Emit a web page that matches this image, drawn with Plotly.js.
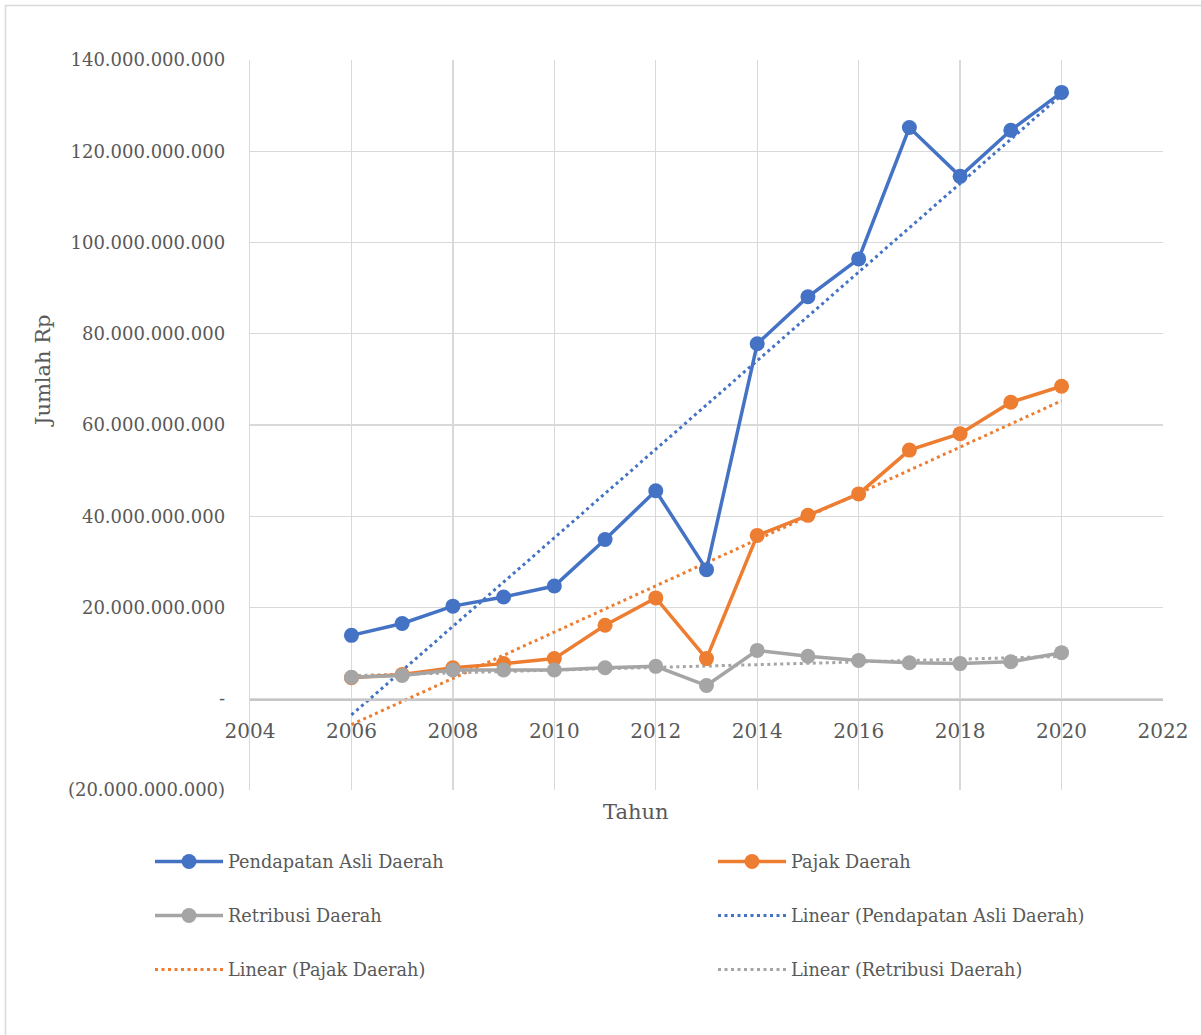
<!DOCTYPE html>
<html>
<head>
<meta charset="utf-8">
<script src="https://cdn.plot.ly/plotly-3.0.1.min.js"></script>
<style>
  html, body { margin: 0; padding: 0; background: #ffffff; }
  #chart { width: 1201px; height: 1035px; }
</style>
</head>
<body>
<div id="chart"></div>
<script>
// ---- Data ----
const years = [2006, 2007, 2008, 2009, 2010, 2011, 2012, 2013, 2014, 2015, 2016, 2017, 2018, 2019, 2020];
const pendapatanAsliDaerah = [13.9e9, 16.5e9, 20.3e9, 22.3e9, 24.7e9, 34.9e9, 45.6e9, 28.3e9, 77.8e9, 88.1e9, 96.4e9, 125.2e9, 114.5e9, 124.6e9, 132.9e9];
const pajakDaerah = [4.6e9, 5.3e9, 6.8e9, 7.7e9, 8.8e9, 16.1e9, 22.1e9, 8.8e9, 35.8e9, 40.2e9, 44.9e9, 54.5e9, 58.1e9, 65.0e9, 68.5e9];
const retribusiDaerah = [4.7e9, 5.1e9, 6.3e9, 6.3e9, 6.3e9, 6.8e9, 7.1e9, 2.9e9, 10.6e9, 9.3e9, 8.4e9, 7.9e9, 7.7e9, 8.1e9, 10.1e9];

const seriesNames = ['Pendapatan Asli Daerah', 'Pajak Daerah', 'Retribusi Daerah'];
const xTickVals = [2004, 2006, 2008, 2010, 2012, 2014, 2016, 2018, 2020, 2022];
const yTickVals = [-20e9, 0, 20e9, 40e9, 60e9, 80e9, 100e9, 120e9, 140e9];
const yTickText = ['(20.000.000.000)', '-', '20.000.000.000', '40.000.000.000', '60.000.000.000',
                   '80.000.000.000', '100.000.000.000', '120.000.000.000', '140.000.000.000'];
const xTitle = 'Tahun';
const yTitle = 'Jumlah Rp';

// ---- Styles ----
const colors = ['#4472C4', '#ED7D31', '#A5A5A5'];
const FONT = '"DejaVu Serif", "Liberation Serif", serif';
const TXT = '#595959';
const GRID = '#D9D9D9';

// least-squares linear trend (as Excel's "Linear" trendline)
function linearFit(xs, ys) {
  const n = xs.length;
  const mx = xs.reduce((a, b) => a + b, 0) / n;
  const my = ys.reduce((a, b) => a + b, 0) / n;
  let sxy = 0, sxx = 0;
  for (let i = 0; i < n; i++) { sxy += (xs[i] - mx) * (ys[i] - my); sxx += (xs[i] - mx) ** 2; }
  const b = sxy / sxx, a = my - b * mx;
  return xs.map(x => a + b * x);
}

const allSeries = [pendapatanAsliDaerah, pajakDaerah, retribusiDaerah];
// legend slots: 1 Pendapatan, 2 Pajak, 3 Retribusi, 4 Lin Pend, 5 Lin Pajak, 6 Lin Retribusi
const legendIds = ['legend', 'legend2', 'legend3', 'legend4', 'legend5', 'legend6'];

const traces = [];
// trendlines (drawn beneath the series)
allSeries.forEach((ys, i) => {
  traces.push({
    x: years, y: linearFit(years, ys), type: 'scatter', mode: 'lines',
    name: 'Linear (' + seriesNames[i] + ')',
    line: { color: colors[i], width: 3, dash: '3px,3.5px' },
    legend: legendIds[3 + i], hoverinfo: 'skip'
  });
});
allSeries.forEach((ys, i) => {
  traces.push({
    x: years, y: ys, type: 'scatter', mode: 'lines+markers',
    name: seriesNames[i],
    line: { color: colors[i], width: 3.5 },
    marker: { color: colors[i], size: 15 },
    legend: legendIds[i]
  });
});

// plot area in px: x 250..1163, y 60..790
const W = 1201, H = 1035, L = 250, R = 1163, T = 60, B = 790;
const px = v => (v - L) / (R - L);
const py = v => (B - v) / (B - T);

const colX = [150, 713];
const rowY = [862, 916, 970];
function legendAt(slot) {
  return {
    orientation: 'v', xanchor: 'left', yanchor: 'middle',
    x: px(colX[slot % 2]), y: py(rowY[Math.floor(slot / 2)]),
    font: { family: FONT, size: 17.7, color: TXT },
    bgcolor: 'rgba(0,0,0,0)', borderwidth: 0, itemwidth: 68
  };
}

const layout = {
  width: W, height: H,
  margin: { l: L, r: W - R, t: T, b: H - B, pad: 0 },
  paper_bgcolor: '#ffffff', plot_bgcolor: '#ffffff',
  font: { family: FONT, color: TXT },
  showlegend: true,
  xaxis: {
    range: [2004, 2022], tickvals: xTickVals, ticktext: xTickVals.map(String),
    showgrid: true, gridcolor: GRID, gridwidth: 1.3, zeroline: false,
    anchor: 'free', position: py(699.3),
    showline: true, linecolor: '#C6C6C6', linewidth: 1.3,
    ticks: '', ticklabelstandoff: 13,
    tickfont: { family: FONT, size: 20, color: TXT }
  },
  yaxis: {
    range: [-20e9, 140e9], tickvals: yTickVals, ticktext: yTickText,
    showgrid: true, gridcolor: GRID, gridwidth: 1.3, zeroline: false,
    showline: true, linecolor: GRID, linewidth: 1.3,
    ticks: '', ticklabelstandoff: 20,
    tickfont: { family: FONT, size: 18, color: TXT }
  },
  annotations: [
    { text: xTitle, xref: 'paper', yref: 'paper', x: px(635), y: py(812),
      xanchor: 'center', yanchor: 'middle', showarrow: false,
      font: { family: FONT, size: 21, color: TXT } },
    { text: yTitle, xref: 'paper', yref: 'paper', x: px(43), y: py(371),
      xanchor: 'center', yanchor: 'middle', showarrow: false, textangle: -90,
      font: { family: FONT, size: 21, color: TXT } }
  ],
  shapes: [
    { type: 'rect', xref: 'paper', yref: 'paper', layer: 'below',
      x0: px(5.5), x1: px(1260), y0: py(1090), y1: py(5.5),
      line: { color: GRID, width: 1.5 }, fillcolor: 'rgba(0,0,0,0)' }
  ]
};
legendIds.forEach((id, slot) => { layout[id] = legendAt(slot); });

Plotly.newPlot('chart', traces, layout, { displayModeBar: false, staticPlot: true });
</script>
</body>
</html>
